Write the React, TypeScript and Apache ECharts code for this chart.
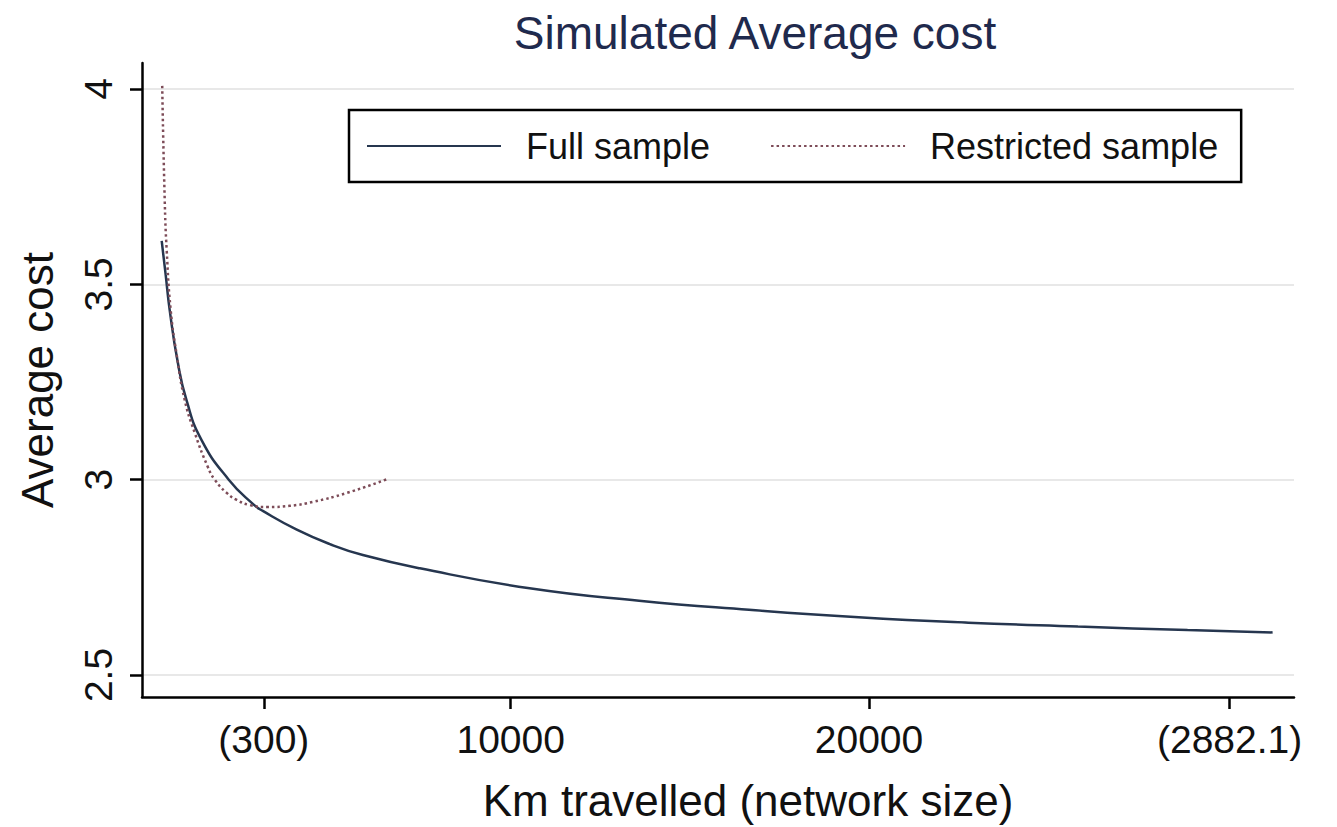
import React, { useEffect, useRef } from 'react';
import * as echarts from 'echarts';

const titleText = 'Simulated Average cost';
const xAxisTitle = 'Km travelled (network size)';
const yAxisTitle = 'Average cost';
const seriesNames = ['Full sample', 'Restricted sample'];

const xTickValues = [3109, 10000, 20000, 30064];
const xTickLabels = ['(300)', '10000', '20000', '(2882.1)'];
const yTickValues = [2.5, 3, 3.5, 4];

const fullX = [260, 371, 483, 707, 950, 1369, 2131, 2827, 3081, 4030, 4952, 5874, 7466, 10528, 13584, 16651, 19712, 22774, 25832, 28891, 31265];
const fullY = [3.611, 3.524, 3.434, 3.301, 3.204, 3.102, 3.0, 2.936, 2.920, 2.872, 2.835, 2.807, 2.773, 2.722, 2.690, 2.667, 2.648, 2.634, 2.624, 2.615, 2.609];

const restrictedX = [274, 344, 399, 511, 679, 902, 1182, 1545, 1740, 2075, 2355, 2718, 3221, 3835, 4478, 5427, 6573];
const restrictedY = [4.008, 3.716, 3.588, 3.434, 3.319, 3.204, 3.120, 3.033, 3.0, 2.966, 2.948, 2.935, 2.930, 2.933, 2.943, 2.966, 3.002];

const FONT = "'Liberation Sans', Arial, Helvetica, sans-serif";

export default function App() {
  const ref = useRef<HTMLDivElement>(null);

  useEffect(() => {
    if (!ref.current) return;
    const chart = echarts.init(ref.current, undefined, { renderer: 'svg' });
    const fullData = fullX.map((x, i) => [x, fullY[i]]);
    const restrictedData = restrictedX.map((x, i) => [x, restrictedY[i]]);

    chart.setOption({
      animation: false,
      backgroundColor: '#ffffff',
      title: {
        text: titleText,
        left: 750,
        top: 5,
        textAlign: 'center',
        textStyle: { fontFamily: FONT, fontSize: 46, fontWeight: 'normal', color: '#1f2a4d' },
      },
      legend: {
        data: seriesNames,
        left: 349,
        top: 110,
        width: 980,
        orient: 'horizontal',
        padding: [18, 23, 18, 17],
        itemGap: 60,
        itemWidth: 134,
        itemHeight: 14,
        borderColor: '#000000',
        borderWidth: 2.5,
        borderRadius: 0,
        itemStyle: { opacity: 0 },
        textStyle: { fontFamily: FONT, fontSize: 36, color: '#111111', padding: [0, 0, 0, 20] },
      },
      grid: {
        left: 142,
        top: 63,
        width: 1152,
        height: 634,
        containLabel: false,
        outerBoundsMode: 'none',
      },
      xAxis: {
        type: 'value',
        min: -290,
        max: 31862,
        name: xAxisTitle,
        nameLocation: 'middle',
        nameGap: 81,
        nameTextStyle: { fontFamily: FONT, fontSize: 44, color: '#111111', padding: [0, 0, 0, 60] },
        axisLine: { show: true, onZero: false, lineStyle: { color: '#000000', width: 2.5 } },
        axisTick: { show: true, inside: false, length: 12, customValues: xTickValues, lineStyle: { color: '#000000', width: 2.5 } },
        axisLabel: {
          customValues: xTickValues,
          margin: 23,
          fontFamily: FONT,
          fontSize: 39,
          color: '#111111',
          formatter: (v: number) => {
            const i = xTickValues.indexOf(v);
            return i >= 0 ? xTickLabels[i] : '';
          },
        },
        splitLine: { show: false },
      },
      yAxis: {
        type: 'value',
        min: 2.4437,
        max: 4.0665,
        name: yAxisTitle,
        nameLocation: 'middle',
        nameGap: 83,
        nameTextStyle: { fontFamily: FONT, fontSize: 44, color: '#111111' },
        axisLine: { show: true, onZero: false, lineStyle: { color: '#000000', width: 2.5 } },
        axisTick: { show: true, inside: false, length: 12, customValues: yTickValues, lineStyle: { color: '#000000', width: 2.5 } },
        axisLabel: {
          customValues: yTickValues,
          rotate: 90,
          margin: 24,
          fontFamily: FONT,
          fontSize: 39,
          color: '#111111',
        },
        splitLine: { show: true, lineStyle: { color: '#e8e8e8', width: 2 } },
      },
      series: [
        {
          name: seriesNames[0],
          type: 'line',
          data: fullData,
          symbol: 'none',
          showSymbol: false,
          smooth: 0.5,
          lineStyle: { color: '#26364f', width: 2.5, type: 'solid' },
          itemStyle: { color: '#26364f' },
        },
        {
          name: seriesNames[1],
          type: 'line',
          data: restrictedData,
          symbol: 'none',
          showSymbol: false,
          smooth: 0.5,
          lineStyle: { color: '#7d4c58', width: 2.5, type: [2.5, 3] },
          itemStyle: { color: '#7d4c58' },
        },
      ],
    });

    return () => {
      chart.dispose();
    };
  }, []);

  return (
    <div
      ref={ref}
      style={{ position: 'fixed', left: 0, top: 0, width: 1337, height: 827, background: '#ffffff' }}
    />
  );
}
